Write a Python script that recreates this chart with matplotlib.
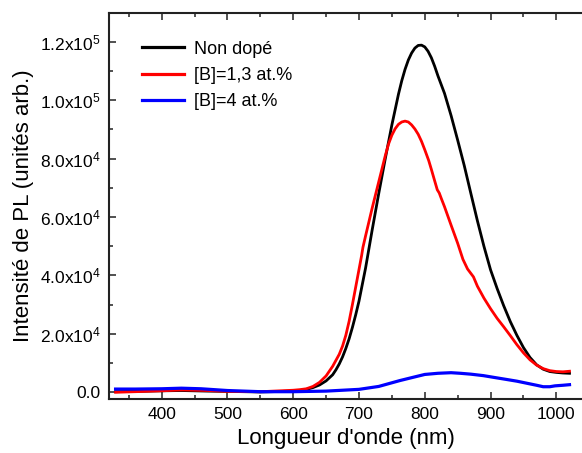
import math
import matplotlib
matplotlib.use("Agg")
import matplotlib.pyplot as plt
from matplotlib.ticker import MultipleLocator, FuncFormatter

plt.rcParams['font.family'] = ['Liberation Sans', 'DejaVu Sans']
plt.rcParams['mathtext.default'] = 'regular'

# ---- data ----
wl_nondope = [330, 360, 400, 430, 470, 500, 550, 600, 610, 620, 630, 640, 650, 660, 665,
              670, 675, 680, 685, 690, 695, 700, 710, 720, 730, 740, 750, 760, 765, 770,
              775, 780, 785, 790, 795, 800, 805, 810, 815, 820, 825, 830, 840, 850, 860,
              870, 880, 890, 900, 910, 920, 930, 940, 950, 960, 970, 980, 990, 1000, 1010,
              1020]
pl_nondope = [200, 300, 500, 600, 400, 300, 100, 400, 600, 1000, 1600, 2500, 3900, 6000, 7700,
              9700, 12100, 15000, 18300, 22200, 26500, 31200, 42500, 55500, 68000, 80000, 91500, 102000, 106600, 110500,
              113700, 116100, 117800, 118700, 118800, 118200, 116700, 114500, 111600, 108300, 105300, 102300, 94700, 86300, 77600,
              68100, 58700, 49900, 41900, 35500, 29600, 24200, 19500, 15300, 11900, 9400, 7900, 7100, 6800, 6600,
              6500]

wl_b13 = [330, 360, 400, 430, 470, 500, 550, 600, 610, 620, 630, 640, 650, 660, 670,
          675, 680, 685, 690, 695, 700, 704, 706, 710, 720, 730, 740, 745, 750, 755,
          760, 765, 770, 775, 780, 785, 790, 795, 800, 806, 810, 815, 819, 822, 825,
          830, 840, 850, 858, 865, 870, 874, 880, 890, 900, 910, 920, 930, 940, 950,
          960, 970, 980, 990, 1000, 1010, 1020]
pl_b13 = [0, 200, 500, 800, 600, 300, 200, 700, 900, 1200, 2000, 3400, 5600, 8900, 13000,
          15800, 19500, 24300, 30000, 36000, 42000, 46800, 49600, 53500, 63000, 72000, 81000, 85000, 88000, 90200,
          91700, 92500, 92800, 92500, 91500, 90100, 88300, 85900, 83000, 79300, 76300, 72400, 69300, 68200, 66400,
          63500, 57200, 51000, 45500, 42200, 40700, 39500, 36300, 32200, 28600, 25300, 22400, 19400, 16300, 13500,
          11100, 9300, 8100, 7400, 7100, 7000, 7200]

wl_b4 = [330, 360, 400, 430, 460, 500, 550, 600, 650, 700, 730, 762, 780, 800, 820,
         840, 854, 870, 889, 905, 924, 940, 955, 970, 980, 990, 998, 1010, 1020]
pl_b4 = [1100, 1100, 1200, 1400, 1200, 600, 200, 200, 400, 1000, 2000, 4000, 5000, 6100, 6500,
         6700, 6500, 6200, 5700, 5100, 4400, 3800, 3100, 2400, 1900, 1900, 2200, 2400, 2600]

labels = ["Non dopé", "[B]=1,3 at.%", "[B]=4 at.%"]
colors = ["#000000", "#ff0000", "#0000ff"]

x_ticks = [400, 500, 600, 700, 800, 900, 1000]
y_ticks = [0, 20000, 40000, 60000, 80000, 100000, 120000]

# ---- figure ----
fig = plt.figure(figsize=(5.82, 4.53), dpi=100)
ax = fig.add_axes([109/582, 1 - 399/453, 1 - 109/582, (399 - 13)/453])

ax.plot(wl_nondope, pl_nondope, color=colors[0], lw=2.0, label=labels[0])
ax.plot(wl_b13, pl_b13, color=colors[1], lw=2.0, label=labels[1])
ax.plot(wl_b4, pl_b4, color=colors[2], lw=2.3, label=labels[2])

ax.set_xlim(320, 1039)
ax.set_ylim(-2300, 129800)

ax.set_xticks(x_ticks)
ax.set_yticks(y_ticks)
ax.xaxis.set_minor_locator(MultipleLocator(50))
ax.yaxis.set_minor_locator(MultipleLocator(10000))


def yfmt(v, pos):
    if v == 0:
        return "0.0"
    e = int(math.floor(math.log10(abs(v))))
    m = v / 10 ** e
    return f"{m:.1f}x10$^{{{e}}}$"


ax.yaxis.set_major_formatter(FuncFormatter(yfmt))

spine_col = "#222222"
for side in ["left", "bottom", "top"]:
    ax.spines[side].set_linewidth(1.5)
    ax.spines[side].set_color(spine_col)
ax.spines["right"].set_visible(False)

ax.tick_params(which='both', direction='in', top=True, right=False, color=spine_col, width=1.1)
ax.tick_params(which='major', length=5, labelsize=12.5, pad=6)
ax.tick_params(which='minor', length=2.8)
ax.tick_params(axis='x', which='both', labeltop=False)

ax.set_xlabel("Longueur d'onde (nm)", fontsize=16, labelpad=4)
ax.set_ylabel("Intensité de PL (unités arb.)", fontsize=16, labelpad=4)

leg = ax.legend(loc='upper left', bbox_to_anchor=(0.07, 0.928), frameon=False,
                fontsize=13, handlelength=2.3, handletextpad=0.55, labelspacing=0.5,
                borderpad=0, borderaxespad=0)
for line in leg.get_lines():
    line.set_linewidth(2.3)

fig.savefig("out.png", dpi=100)
